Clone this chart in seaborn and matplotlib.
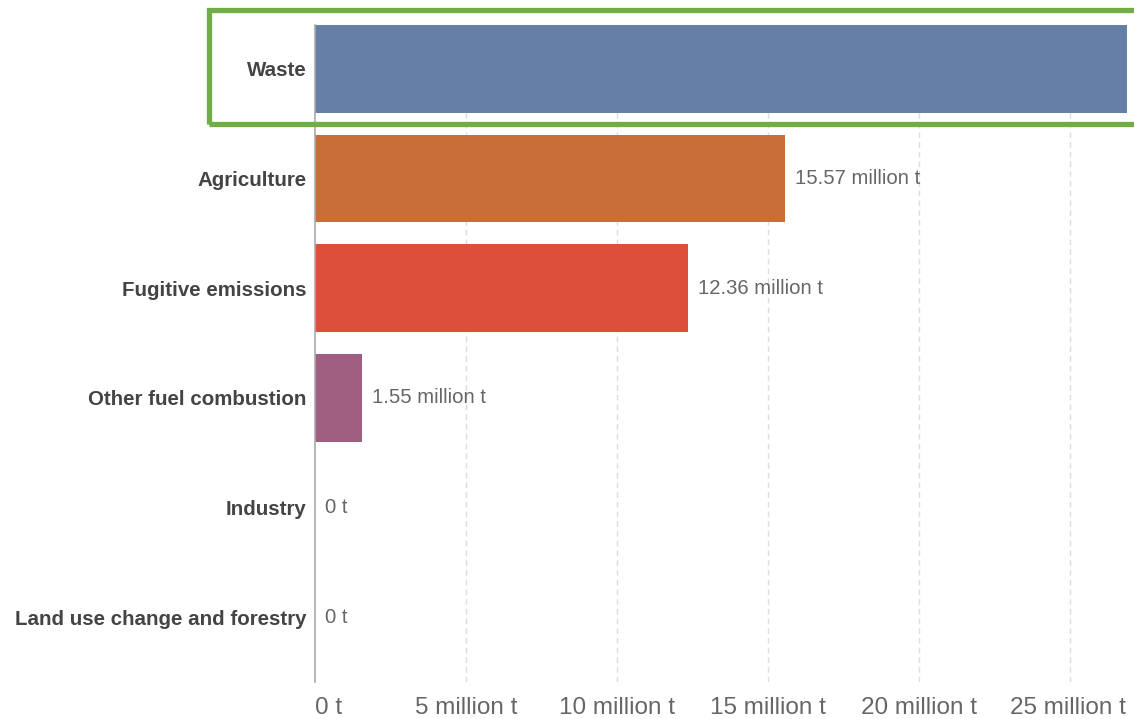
import matplotlib
matplotlib.use("Agg")
import matplotlib.pyplot as plt
import matplotlib.patches as mpatches
from matplotlib.transforms import ScaledTranslation
import seaborn as sns

# Emissions by sector, in million tonnes
sectors = ["Waste", "Agriculture", "Fugitive emissions", "Other fuel combustion",
           "Industry", "Land use change and forestry"]
emissions_mt = [26.88, 15.57, 12.36, 1.55, 0.0, 0.0]
bar_colors = ["#667fa7", "#ca6e37", "#dc4f3a", "#a05f80", "#8a8a8a", "#8a8a8a"]
tick_values = [0, 5, 10, 15, 20, 25]
tick_labels = ["0 t", "5 million t", "10 million t", "15 million t", "20 million t", "25 million t"]

sns.set_theme(style="white")
plt.rcParams["font.family"] = ["Liberation Sans", "DejaVu Sans"]

fig = plt.figure(figsize=(11.34, 7.19), dpi=100)
ax = fig.add_axes([315 / 1134, 1 - 682 / 719, (1127 - 315) / 1134, (682 - 25) / 719])

sns.barplot(x=emissions_mt, y=sectors, hue=sectors, palette=bar_colors,
            legend=False, width=0.8, orient="h", ax=ax, saturation=1,
            linewidth=0, zorder=3)

ax.set_xlim(0, max(emissions_mt))
ax.set_ylim(len(sectors) - 0.41, -0.4)

# Dashed vertical gridlines, solid baseline at zero
for v in tick_values[1:]:
    ax.axvline(v, color="#dddddd", lw=1, ls=(0, (4, 3)), zorder=1)
for side in ["top", "right", "bottom"]:
    ax.spines[side].set_visible(False)
ax.spines["left"].set_color("#aaaaaa")
ax.spines["left"].set_linewidth(1.2)
ax.spines["left"].set_zorder(5)

ax.set_xticks(tick_values)
ax.set_xticklabels(tick_labels, fontsize=17.5, color="#666666")
ax.tick_params(axis="x", length=0, pad=11)
ax.tick_params(axis="y", length=0, pad=6)
for lbl in ax.get_yticklabels():
    lbl.set_fontsize(14.8)
    lbl.set_fontweight("bold")
    lbl.set_color("#444444")
ax.set_xlabel("")
ax.set_ylabel("")

xt = ax.get_xticklabels()
xt[0].set_horizontalalignment("left")
xt[-1].set_transform(xt[-1].get_transform() + ScaledTranslation(-2 / 100, 0, fig.dpi_scale_trans))

# Value labels at the end of each bar
for i, v in enumerate(emissions_mt):
    text = "0 t" if v == 0 else f"{v:.2f} million t"
    ax.annotate(text, (v, i), xytext=(7, 0), textcoords="offset points",
                va="center", ha="left", fontsize=14.6, color="#666666",
                annotation_clip=False)

# Highlight box around the leading sector
fig.patches.append(mpatches.Rectangle((209 / 1134, 1 - 124 / 719), 1000 / 1134, 114 / 719,
                                      transform=fig.transFigure, fill=False,
                                      edgecolor="#70ad47", linewidth=3.8, zorder=10))

fig.savefig("out.png", dpi=100)
